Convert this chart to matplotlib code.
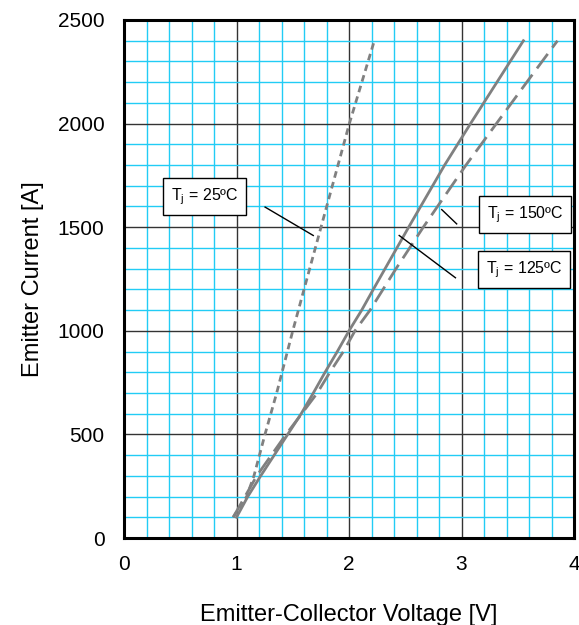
import matplotlib
matplotlib.use("Agg")
from matplotlib import pyplot as plt
from matplotlib.ticker import MultipleLocator

plt.rcParams['font.family'] = ['Liberation Sans', 'DejaVu Sans']
plt.rcParams['mathtext.fontset'] = 'custom'
plt.rcParams['mathtext.rm'] = 'Liberation Sans'
plt.rcParams['mathtext.it'] = 'Liberation Sans:italic'

# forward characteristics, emitter-collector voltage [V] vs emitter current [A]
v_25 = [0.97, 1.09, 1.155, 1.253, 1.357, 1.50, 1.60, 1.751, 2.003, 2.225]
i_25 = [100, 200, 300, 500, 700, 1000, 1200, 1500, 2000, 2400]

v_125 = [1.0, 1.10, 1.215, 1.335, 1.455, 1.575, 1.683, 1.787, 1.896, 2.0, 2.113,
         2.216, 2.53, 2.85, 3.08, 3.55]
i_125 = [100, 200, 300, 400, 500, 600, 700, 800, 900, 1000, 1100,
         1200, 1500, 1800, 2000, 2400]

v_150 = [0.97, 1.075, 1.18, 1.31, 1.44, 1.58, 1.718, 1.83, 1.95, 2.053, 2.187,
         2.418, 2.66, 3.04, 3.31, 3.58, 3.853]
i_150 = [100, 200, 300, 400, 500, 600, 700, 800, 900, 1000, 1100,
         1300, 1500, 1800, 2000, 2200, 2400]

labels = [r'T$_\mathrm{j}$ = 25ºC', r'T$_\mathrm{j}$ = 150ºC', r'T$_\mathrm{j}$ = 125ºC']

fig = plt.figure(figsize=(5.79, 6.25), dpi=100)
ax = fig.add_axes([0.2142, 0.1392, 0.7772, 0.8288])

ax.set_xlim(0, 4)
ax.set_ylim(0, 2500)
ax.xaxis.set_major_locator(MultipleLocator(1))
ax.xaxis.set_minor_locator(MultipleLocator(0.2))
ax.yaxis.set_major_locator(MultipleLocator(500))
ax.yaxis.set_minor_locator(MultipleLocator(100))
ax.grid(which='minor', color='#22ccf5', linewidth=1.0)
ax.grid(which='major', color='#333333', linewidth=1.0)
ax.set_axisbelow(True)
ax.tick_params(which='both', length=0, labelsize=15)
ax.tick_params(axis='x', pad=12)
ax.tick_params(axis='y', pad=14)
for s in ax.spines.values():
    s.set_linewidth(2.2)
    s.set_zorder(5)

grey = '#808080'
ax.plot(v_25, i_25, color=grey, lw=2.0, dashes=(2.4, 1.6))
ax.plot(v_125, i_125, color=grey, lw=2.0)
ax.plot(v_150, i_150, color=grey, lw=2.0, dashes=(6.5, 2.8))

box = dict(boxstyle='square,pad=0.5', fc='white', ec='black', lw=1.0)
ax.text(0.716, 1647, labels[0], ha='center', va='center', fontsize=11.5, bbox=box)
ax.text(3.564, 1560, labels[1], ha='center', va='center', fontsize=11.5, bbox=box,
        zorder=6, clip_on=False)
ax.text(3.555, 1295, labels[2], ha='center', va='center', fontsize=11.5, bbox=box,
        zorder=6, clip_on=False)

# leader lines from the labels to the curves
ax.plot([1.254, 1.682], [1597, 1460], color='black', lw=1.0)
ax.plot([2.957, 2.824], [1516, 1585], color='black', lw=1.0)
ax.plot([2.946, 2.446], [1256, 1460], color='black', lw=1.0)

ax.set_xlabel('Emitter-Collector Voltage [V]', fontsize=17, labelpad=22)
ax.set_ylabel('Emitter Current [A]', fontsize=17, labelpad=10)

fig.savefig('out.png', dpi=100, facecolor='white')
